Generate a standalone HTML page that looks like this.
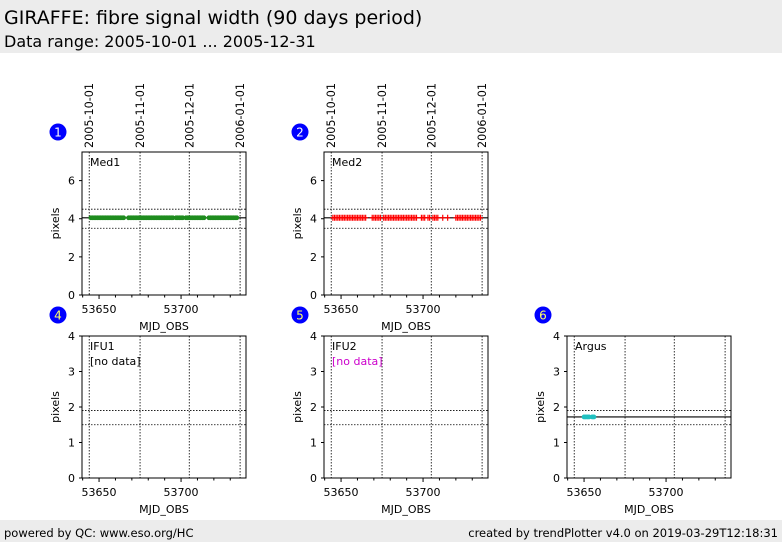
<!DOCTYPE html>
<html><head><meta charset="utf-8"><style>
body{margin:0;width:782px;height:542px;background:#fff;font-family:"DejaVu Sans","Liberation Sans",sans-serif;overflow:hidden;position:relative}
#hdr{position:absolute;left:0;top:0;width:782px;height:53px;background:#ececec}
#t1{position:absolute;left:4px;top:7px;font-size:19px}
#t2{position:absolute;left:4px;top:32px;font-size:16px}
#ftr{position:absolute;left:0;top:520px;width:782px;height:22px;background:#ececec;font-size:11.5px}
svg{position:absolute;left:0;top:0}
</style></head><body>
<div id="hdr">
<div id="t1">GIRAFFE: fibre signal width (90 days period)</div>
<div id="t2">Data range: 2005-10-01 ... 2005-12-31</div></div>
<div id="ftr"><span style="position:absolute;left:4px;top:6px">powered by QC: www.eso.org/HC</span><span style="position:absolute;right:4px;top:6px">created by trendPlotter v4.0 on 2019-03-29T12:18:31</span></div>
<svg id="c" width="782" height="542"></svg>
<script>
const xDomain=[53639.6,53739.6];
const xTicks=[53650,53700];
const dateLabels=["2005-10-01","2005-11-01","2005-12-01","2006-01-01"];
const dateMjd=[53644,53675,53705,53736];
const panelNames=["Med1","Med2","IFU1","IFU2","Argus"];
const panelNums=[1,2,4,5,6];
const yMax=[7.5,7.5,4,4,4];
const yTicksTop=[0,2,4,6];
const yTicksBot=[0,1,2,3,4];
const medians=[4.05,4.05,null,null,1.72];
const upper=[4.5,4.5,1.9,1.9,1.9];
const lower=[3.5,3.5,1.5,1.5,1.5];
const med1X=[53645,53646,53647,53648,53649,53650,53651,53652,53653,53654,53655,53656,53657,53658,53659,53660,53661,53662,53663,53664,53665,53668,53669,53670,53671,53672,53673,53674,53675,53676,53677,53678,53679,53680,53681,53682,53683,53684,53685,53686,53687,53688,53689,53690,53691,53692,53693,53694,53695,53697,53698,53699,53700,53701,53703,53704,53705,53706,53707,53708,53709,53710,53711,53712,53713,53714,53717,53718,53719,53720,53721,53722,53723,53724,53725,53726,53727,53728,53729,53730,53731,53732,53733,53734];
const med1Y=med1X.map(()=>4.05);
const med2X=[53645,53646,53647,53648,53649,53650,53651,53652,53653,53654,53655,53656,53657,53658,53659,53660,53661,53662,53663,53664,53665,53669,53670,53671,53672,53673,53674,53676,53677,53678,53679,53680,53681,53682,53683,53684,53685,53686,53687,53688,53689,53690,53691,53692,53693,53694,53695,53696,53699,53700,53701,53703,53704,53706,53707,53708,53709,53712,53715,53720,53721,53722,53723,53724,53725,53726,53727,53728,53729,53730,53731,53732,53733,53734,53735];
const med2Y=med2X.map(()=>4.05);
const argusX=[53650,53651,53652,53653,53655,53656];
const argusY=[1.72,1.72,1.72,1.72,1.72,1.72];
const series=[[med1X,med1Y,"dot","#1f8c1f"],[med2X,med2Y,"plus","#ff0000"],null,null,[argusX,argusY,"dot","#20c0c0"]];
const boxes=[[82,152],[324,152],[82,336],[324,336],[567,336]];
const W=164,H=[143,143,142,142,142];
const svg=document.getElementById('c');const NS="http://www.w3.org/2000/svg";
function el(t,a,p){const e=document.createElementNS(NS,t);for(const k in a)e.setAttribute(k,a[k]);(p||svg).appendChild(e);return e;}
boxes.forEach((b,i)=>{
 const [x0,y0]=b,h=H[i];
 const g=el('g',{});
 
 
 const sx=v=>x0+(v-xDomain[0])/(xDomain[1]-xDomain[0])*W;
 const sy=v=>y0+h-v/yMax[i]*h;
 dateMjd.forEach((m,k)=>{
  const l=el('line',{x1:sx(m),x2:sx(m),y1:y0,y2:y0+h,stroke:'#000','stroke-width':0.8,'stroke-dasharray':'1.5,1.5'},g);
  
  if(i<2){const t=el('text',{x:0,y:0,'font-size':11.2,transform:`translate(${sx(m)+4},${y0-4}) rotate(-90)`,'font-family':'DejaVu Sans,sans-serif'},g);t.textContent=dateLabels[k];
  }
 });
 [upper[i],lower[i]].forEach(v=>{const l=el('line',{x1:x0,x2:x0+W,y1:sy(v),y2:sy(v),stroke:'#000','stroke-width':0.8,'stroke-dasharray':'1.5,1.5'},g);
  });
 if(medians[i]!=null){const l=el('line',{x1:x0,x2:x0+W,y1:sy(medians[i]),y2:sy(medians[i]),stroke:'#000','stroke-width':1.1},g);
  }
 const s=series[i];
 if(s){s[0].forEach((xv,k)=>{const px=sx(xv),py=sy(s[1][k]);let m;
  if(s[2]=='dot')m=el('circle',{cx:px,cy:py,r:2.4,fill:s[3]},g);
  else m=el('path',{d:`M${px-2.5},${py}H${px+2.5}M${px},${py-3}V${py+3}`,stroke:s[3],'stroke-width':1.2},g);
  });}
 el('rect',{x:x0,y:y0,width:W,height:h,fill:'none',stroke:'#000','stroke-width':1},g);
 const yt=i<2?yTicksTop:yTicksBot;
 yt.forEach(v=>{el('line',{x1:x0-3,x2:x0,y1:sy(v),y2:sy(v),stroke:'#000'},g);
  const t=el('text',{x:x0-7,y:sy(v)+4,'font-size':11,'text-anchor':'end'},g);t.textContent=v;
  });
 for(let m=53640;m<=53735;m+=10){el('line',{x1:sx(m),x2:sx(m),y1:y0+h,y2:y0+h+(m%50==0?4:2.5),stroke:'#000'},g);}
 xTicks.forEach(v=>{const t=el('text',{x:sx(v),y:y0+h+18,'font-size':11,'text-anchor':'middle'},g);t.textContent=v;
  });
 const xl=el('text',{x:x0+W/2,y:y0+h+35,'font-size':11,'text-anchor':'middle'},g);xl.textContent='MJD_OBS';
 
 const yl=el('text',{x:0,y:0,'font-size':11,'text-anchor':'middle',transform:`translate(${x0-23},${y0+h/2}) rotate(-90)`},g);yl.textContent='pixels';
 
 const nm=el('text',{x:x0+8,y:y0+14,'font-size':11},g);nm.textContent=panelNames[i];
 
 if(!s){const nd=el('text',{x:x0+8,y:y0+29,'font-size':11,fill:i==3?'#cc00cc':'#000'},g);nd.textContent='[no data]';
  }
 const cy=i<2?132:315,cx=x0-24;
 const c=el('circle',{cx:cx,cy:cy,r:8.5,fill:'#0000ff'},g);
 
 const ct=el('text',{x:cx,y:cy+4.5,'font-size':12,fill:i<2?'#fff':'#ffff66','text-anchor':'middle'},g);ct.textContent=panelNums[i];
 
});
</script></body></html>
